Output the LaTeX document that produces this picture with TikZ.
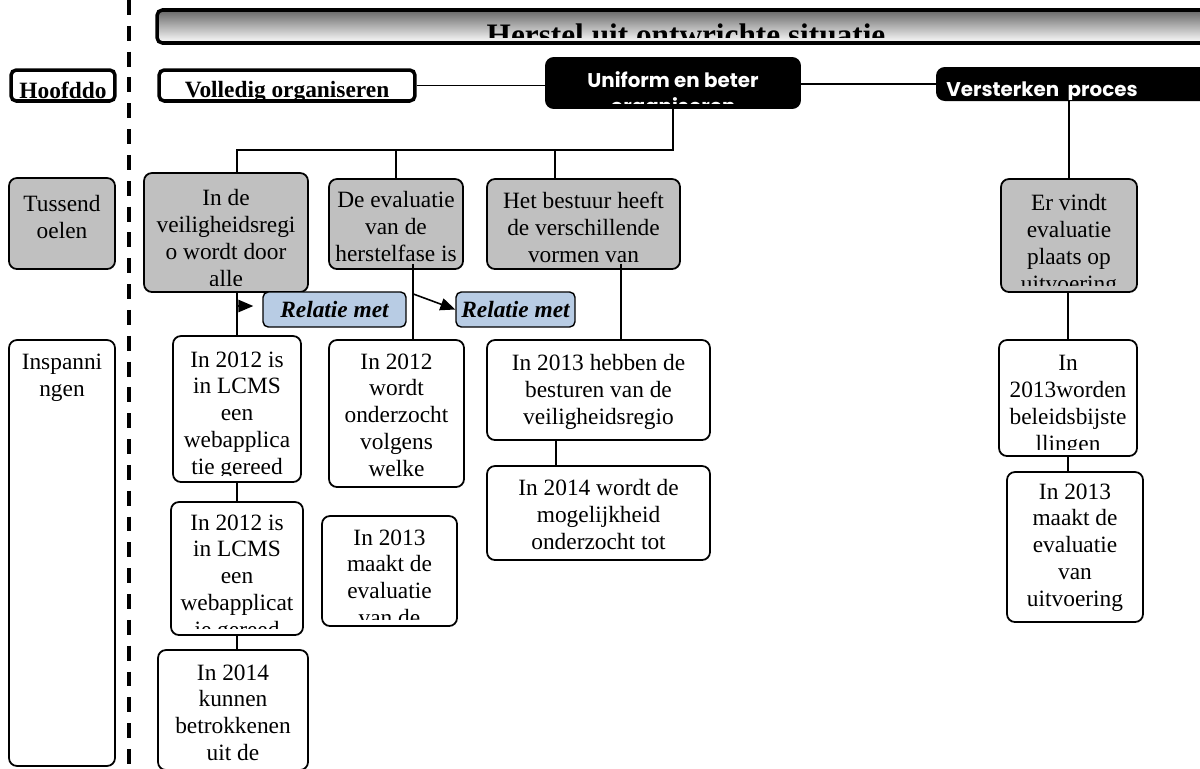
\documentclass[tikz,border=0pt]{standalone}
\usepackage{fontspec}
\setmainfont{Liberation Serif}
\newfontfamily\gothic{Poppins}
\usepackage{tikz}
\usetikzlibrary{calc,arrows.meta}
\definecolor{boxgrijs}{HTML}{C0C0C0}
\definecolor{relblauw}{HTML}{B8CCE4}
\newcommand\romein{\fontsize{13.3}{15.3}\selectfont}

\tikzset{
  tekstdy/.store in=\tekstdy, tekstdy=0.3cm,
  tekstdx/.store in=\tekstdx, tekstdx=0cm,
  tekstonder/.store in=\tekstonder, tekstonder=4pt,
  tekstfont/.store in=\tekstfont, tekstfont=\romein,
  tekstkleur/.store in=\tekstkleur, tekstkleur=black
}
\newcommand\vaktekst[3][]{%
  \begin{scope}[#1]
    \clip ([xshift=1pt,yshift=\tekstonder]#2.south west) rectangle (#2.north east);
    \node[anchor=north, align=center, inner sep=0pt, font=\tekstfont, text=\tekstkleur]
      (#2-tekst) at ([xshift=\tekstdx,yshift=-\tekstdy]#2.north) {#3};
  \end{scope}}

\begin{document}
\begin{tikzpicture}[x=0.02cm, y=-0.02cm,
  vak/.style={draw, line width=1pt, rounded corners=4.5pt, inner sep=0pt},
  tussen/.style={vak, fill=boxgrijs},
  inspan/.style={vak, fill=white},
  hoofd/.style={draw, line width=2pt, rounded corners=3pt, inner sep=0pt, fill=white},
  hoofdtekst/.style={tekstfont={\bfseries\romein}, tekstdy=0.26cm, tekstonder=1.7pt},
  zwart/.style={fill=black, rounded corners=5pt, inner sep=0pt},
  zwarttekst/.style={tekstfont={\gothic\bfseries\fontsize{11.3}{14.5}\selectfont}, tekstkleur=white, tekstdy=0.3cm},
  relatie/.style={draw, fill=relblauw, line width=0.8pt, rounded corners=3pt, inner sep=0pt, font={\bfseries\itshape\romein}},
  lijn/.style={line width=0.9pt},
  pijl/.style={lijn, -{Triangle[length=8.5pt,width=7pt]}},
  scheiding/.style={line width=1.8pt, dash pattern=on 8.5pt off 6.2pt}]
  \useasboundingbox (0,0) rectangle (1200,768);
  \draw[scheiding] (129,0) -- (129,768);

  \node[hoofd, top color=black!60, bottom color=white, minimum width=21.16cm, minimum height=0.66cm] (titel) at (686,26.5) {};
  \node[hoofd, minimum width=2.08cm, minimum height=0.62cm] (hoofddo) at (63,85.5) {};
  \node[hoofd, minimum width=5.12cm, minimum height=0.62cm] (volledig) at (287,85.5) {};
  \node[zwart, minimum width=5.12cm, minimum height=1.04cm] (uniform) at (673,83) {};
  \node[zwart, minimum width=5.48cm, minimum height=0.68cm] (versterken) at (1073,84) {};
  \vaktekst[hoofdtekst, tekstfont={\bfseries\fontsize{17.8}{20}\selectfont}, tekstdy=0.3cm, tekstonder=4pt]{titel}{Herstel uit ontwrichte situatie}
  \vaktekst[hoofdtekst]{hoofddo}{Hoofddo}
  \vaktekst[hoofdtekst]{volledig}{Volledig organiseren}
  \vaktekst[zwarttekst, tekstonder=3.6pt]{uniform}{Uniform en beter\\organiseren}
  \vaktekst[zwarttekst, tekstdx=-0.62cm, tekstonder=1pt]{versterken}{Versterken~ proces}

  \node[tussen, minimum width=2.12cm, minimum height=1.82cm] (tussendoelen) at (62,223.5) {};
  \node[tussen, minimum width=3.28cm, minimum height=2.38cm] (t1) at (226,232.5) {};
  \node[tussen, minimum width=2.68cm, minimum height=1.8cm] (t2) at (396,224) {};
  \node[tussen, minimum width=3.86cm, minimum height=1.8cm] (t3) at (583.5,224) {};
  \node[tussen, minimum width=2.72cm, minimum height=2.26cm] (t4) at (1069,235.5) {};
  \vaktekst[tekstdy=0.36cm]{tussendoelen}{Tussend\\oelen}
  \vaktekst[tekstdy=0.34cm]{t1}{In de\\veiligheidsregi\\o wordt door\\alle}
  \vaktekst[tekstdy=0.26cm, tekstonder=2.5pt]{t2}{De evaluatie\\van de\\herstelfase is}
  \vaktekst[tekstdy=0.28cm, tekstonder=2.5pt]{t3}{Het bestuur heeft\\de verschillende\\vormen van}
  \vaktekst[tekstdy=0.32cm]{t4}{Er vindt\\evaluatie\\plaats op\\uitvoering}

  \node[relatie, minimum width=2.86cm, minimum height=0.7cm] (r1) at (334.5,309.5) {Relatie met};
  \node[relatie, minimum width=2.38cm, minimum height=0.7cm] (r2) at (515.5,309.5) {Relatie met};

  \node[inspan, minimum width=2.12cm, minimum height=8.52cm] (inspanningen) at (62,553) {};
  \node[inspan, minimum width=2.56cm, minimum height=2.92cm] (a) at (237,409) {};
  \node[inspan, minimum width=2.64cm, minimum height=2.66cm] (b) at (237,568.5) {};
  \node[inspan, minimum width=3cm, minimum height=2.4cm] (c) at (233,710) {};
  \node[inspan, minimum width=2.7cm, minimum height=2.94cm] (i2) at (396.5,413.5) {};
  \node[inspan, minimum width=2.7cm, minimum height=2.2cm] (i2b) at (389.5,571) {};
  \node[inspan, minimum width=4.46cm, minimum height=2cm] (i3a) at (598.5,390) {};
  \node[inspan, minimum width=4.46cm, minimum height=1.88cm] (i3b) at (598.5,513) {};
  \node[inspan, minimum width=2.76cm, minimum height=2.32cm] (j1) at (1068,398) {};
  \node[inspan, minimum width=2.72cm, minimum height=3cm] (j2) at (1075,547) {};
  \vaktekst{inspanningen}{Inspanni\\ngen}
  \vaktekst[tekstdy=0.32cm]{a}{In 2012 is\\in LCMS\\een\\webapplica\\tie gereed}
  \vaktekst[tekstdy=0.26cm]{b}{In 2012 is\\in LCMS\\een\\webapplicat\\ie gereed}
  \vaktekst{c}{In 2014\\kunnen\\betrokkenen\\uit de}
  \vaktekst[tekstdy=0.28cm]{i2}{In 2012\\wordt\\onderzocht\\volgens\\welke}
  \vaktekst[tekstdy=0.28cm]{i2b}{In 2013\\maakt de\\evaluatie\\van de}
  \vaktekst{i3a}{In 2013 hebben de\\besturen van de\\veiligheidsregio}
  \vaktekst[tekstdy=0.28cm]{i3b}{In 2014 wordt de\\mogelijkheid\\onderzocht tot}
  \vaktekst[tekstdy=0.32cm]{j1}{In\\2013worden\\beleidsbijste\\llingen}
  \vaktekst[tekstdy=0.24cm]{j2}{In 2013\\maakt de\\evaluatie\\van\\uitvoering}

  \draw[lijn] (volledig.east) -- (volledig.east -| uniform.west);
  \draw[lijn] (uniform.east |- versterken.west) -- (versterken.west);
  \coordinate (k1) at (237,150);
  \coordinate (k3) at (555,150);
  \draw[lijn] (uniform.south) |- (k1) -- (k1 |- t1.north);
  \draw[lijn] (t2.north |- k1) -- (t2.north);
  \draw[lijn] (k3) -- (k3 |- t3.north);
  \draw[lijn] (versterken.south -| t4.north) -- (t4.north);
  \draw[lijn] (t1.south -| a.north) -- (a.north);
  \draw[lijn] (a.south) -- (b.north);
  \draw[lijn] (b.south) -- (b.south |- c.north);
  \coordinate (v2) at ($(t2.south)+(17,-6)$);
  \draw[lijn] (v2) -- (v2 |- i2.north);
  \coordinate (p2) at ($(v2)+(0,30)$);
  \draw[pijl] (p2) -- (r2.west);
  \coordinate (p1) at (236,306);
  \draw[pijl] (p1) -- ($(r1.west |- p1)+(-9,0)$);
  \coordinate (v3) at ($(t3.south)+(37.5,-6)$);
  \draw[lijn] (v3) -- (v3 |- i3a.north);
  \coordinate (v4) at ($(i3a.south)+(-42.5,0)$);
  \draw[lijn] (v4) -- (v4 |- i3b.north);
  \draw[lijn] (t4.south -| j1.north) -- (j1.north);
  \draw[lijn] (j1.south) -- (j1.south |- j2.north);
\end{tikzpicture}
\end{document}
